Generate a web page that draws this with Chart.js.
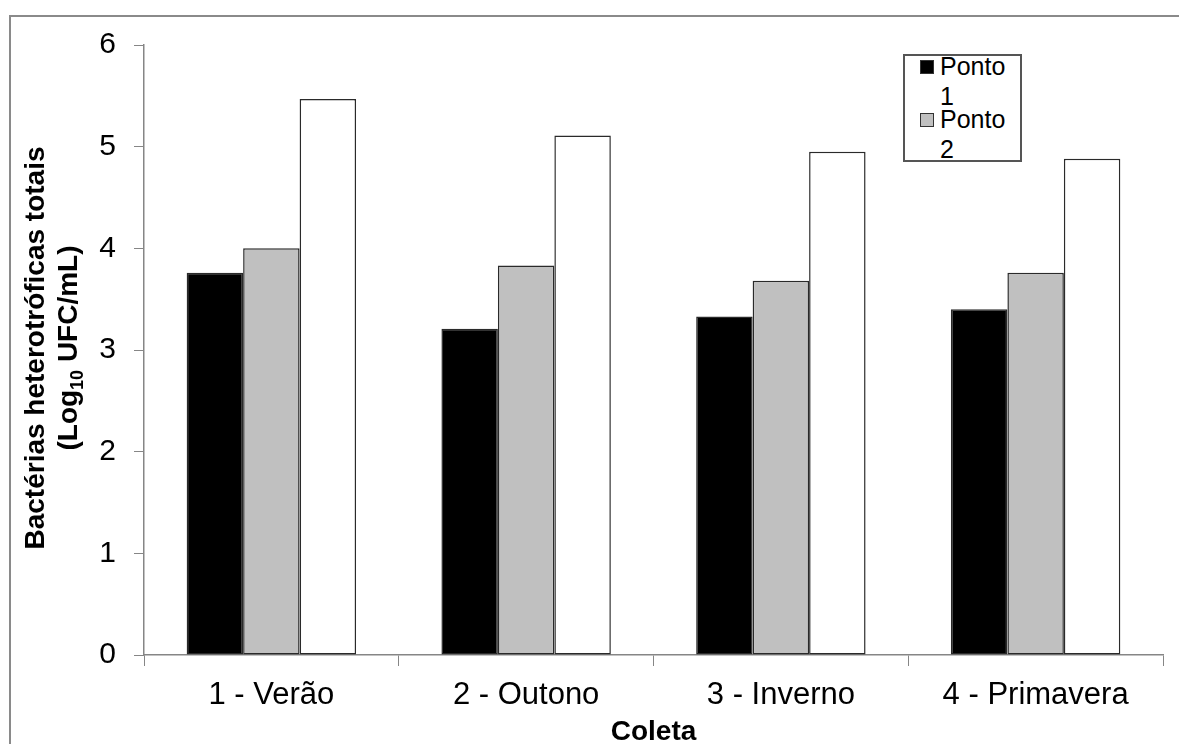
<!DOCTYPE html>
<html>
<head>
<meta charset="utf-8">
<script src="https://cdn.jsdelivr.net/npm/chart.js@4.4.1/dist/chart.umd.min.js"></script>
<style>
  html, body { margin: 0; padding: 0; background: white; }
  #wrap { position: relative; width: 1179px; height: 744px; overflow: hidden; }
  #legend {
    position: absolute; left: 903px; top: 54px; width: 119px; height: 108px;
    box-sizing: border-box; border: 2px solid #555; background: white; overflow: hidden;
    font-family: 'Liberation Sans', Arial, sans-serif; font-size: 25px; color: black;
  }
  .sq { position: absolute; left: 15px; width: 12px; height: 12px; border: 1px solid #333; }
  .txt { position: absolute; left: 35px; width: 76px; line-height: 30px; }
</style>
</head>
<body>
<div id="wrap">
  <canvas id="myChart" width="1179" height="744"></canvas>
  <div id="legend"></div>
</div>
<script>
// data
var categories = ['1 - Verão', '2 - Outono', '3 - Inverno', '4 - Primavera'];
var seriesNames = ['Ponto 1', 'Ponto 2', 'Ponto 3'];
var ponto1 = [3.76, 3.21, 3.33, 3.40];
var ponto2 = [4.00, 3.83, 3.68, 3.76];
var ponto3 = [5.47, 5.11, 4.95, 4.88];
var yTicks = [0, 1, 2, 3, 4, 5, 6];

var fills = ['#000000', '#c0c0c0', '#ffffff'];
var font = "'Liberation Sans', Arial, sans-serif";
var axisColor = '#868686';

// outer frame + axis titles (subscript needs manual drawing)
var decor = {
  id: 'decor',
  beforeDraw: function(chart) {
    var c = chart.ctx;
    c.save();
    c.strokeStyle = '#8a8a8a';
    c.lineWidth = 2;
    c.strokeRect(10, 16, 1300, 900);
    c.restore();
  },
  afterDraw: function(chart) {
    var c = chart.ctx;
    var area = chart.chartArea;
    var cy = 348;
    c.save();
    c.fillStyle = 'black';
    c.font = 'bold 28px ' + font;
    c.textBaseline = 'alphabetic';
    c.textAlign = 'center';
    c.fillText('Coleta', (area.left + area.right) / 2, 740);

    c.translate(44, cy);
    c.rotate(-Math.PI / 2);
    c.fillText('Bactérias heterotróficas totais', 0, 0);

    // second line: (Log10 UFC/mL) with subscript
    var a = '(Log', s = '10', b = ' UFC/mL)';
    c.textAlign = 'left';
    c.font = 'bold 28px ' + font;
    var wa = c.measureText(a).width, wb = c.measureText(b).width;
    c.font = 'bold 18px ' + font;
    var ws = c.measureText(s).width;
    var x0 = -(wa + ws + wb) / 2;
    c.font = 'bold 28px ' + font;
    c.fillText(a, x0, 33);
    c.font = 'bold 18px ' + font;
    c.fillText(s, x0 + wa, 39);
    c.font = 'bold 28px ' + font;
    c.fillText(b, x0 + wa + ws, 33);
    c.restore();
  }
};

var datasets = [ponto1, ponto2, ponto3].map(function(d, i) {
  return {
    label: seriesNames[i],
    data: d,
    backgroundColor: fills[i],
    borderColor: '#2a2a2a',
    borderWidth: 1.5,
    borderSkipped: false,
    categoryPercentage: 0.665,
    barPercentage: 1.0
  };
});

new Chart(document.getElementById('myChart').getContext('2d'), {
  type: 'bar',
  data: { labels: categories, datasets: datasets },
  plugins: [decor],
  options: {
    responsive: false,
    animation: false,
    devicePixelRatio: 1,
    layout: { padding: { left: 0, top: 45, right: 16, bottom: 0 } },
    plugins: { legend: { display: false }, tooltip: { enabled: false } },
    scales: {
      x: {
        grid: { display: true, offset: true, drawOnChartArea: false, tickLength: 11, color: axisColor },
        border: { color: axisColor, width: 1.5 },
        ticks: { color: 'black', font: { family: font, size: 31 }, padding: 11, maxRotation: 0 },
        afterFit: function(scale) { scale.height = 89; }
      },
      y: {
        min: 0,
        max: 6,
        afterBuildTicks: function(scale) {
          scale.ticks = yTicks.map(function(v) { return { value: v }; });
        },
        grid: { display: true, drawOnChartArea: false, tickLength: 10, color: axisColor },
        border: { color: axisColor, width: 1.5 },
        ticks: { color: 'black', font: { family: font, size: 30 }, padding: 18 },
        afterFit: function(scale) { scale.width = 144; }
      }
    }
  }
});

// legend box (only the first two entries fit in the original box)
var legend = document.getElementById('legend');
seriesNames.slice(0, 2).forEach(function(name, i) {
  var sq = document.createElement('div');
  sq.className = 'sq';
  sq.style.top = (4 + 53 * i) + 'px';
  sq.style.background = fills[i];
  legend.appendChild(sq);
  var t = document.createElement('div');
  t.className = 'txt';
  t.style.top = (-5 + 53 * i) + 'px';
  t.textContent = name;
  legend.appendChild(t);
});
</script>
</body>
</html>
